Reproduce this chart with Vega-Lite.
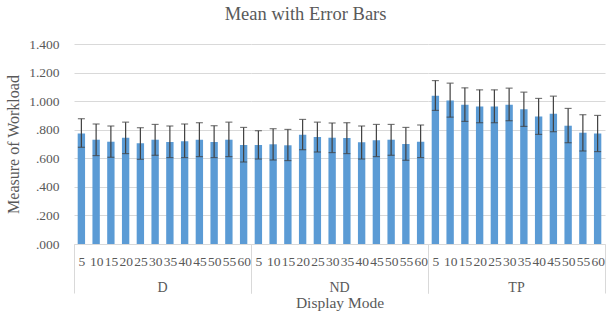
{
  "$schema": "https://vega.github.io/schema/vega-lite/v6.json",
  "padding": {"top": 4, "left": 5, "right": 0, "bottom": 0},
  "title": {
    "text": "Mean with Error Bars",
    "font": "Liberation Serif",
    "fontSize": 18.5,
    "fontWeight": "normal",
    "color": "#595959",
    "anchor": "middle",
    "frame": "bounds",
    "offset": 14
  },
  "data": {
    "values": [
      {"mode": "D", "interval": "5", "mean": 0.774, "lo": 0.677, "hi": 0.877},
      {"mode": "D", "interval": "10", "mean": 0.730, "lo": 0.619, "hi": 0.840},
      {"mode": "D", "interval": "15", "mean": 0.716, "lo": 0.607, "hi": 0.826},
      {"mode": "D", "interval": "20", "mean": 0.744, "lo": 0.633, "hi": 0.853},
      {"mode": "D", "interval": "25", "mean": 0.705, "lo": 0.593, "hi": 0.814},
      {"mode": "D", "interval": "30", "mean": 0.730, "lo": 0.621, "hi": 0.837},
      {"mode": "D", "interval": "35", "mean": 0.714, "lo": 0.605, "hi": 0.826},
      {"mode": "D", "interval": "40", "mean": 0.719, "lo": 0.605, "hi": 0.840},
      {"mode": "D", "interval": "45", "mean": 0.730, "lo": 0.612, "hi": 0.849},
      {"mode": "D", "interval": "50", "mean": 0.714, "lo": 0.605, "hi": 0.828},
      {"mode": "D", "interval": "55", "mean": 0.730, "lo": 0.612, "hi": 0.853},
      {"mode": "D", "interval": "60", "mean": 0.693, "lo": 0.574, "hi": 0.816},
      {"mode": "ND", "interval": "5", "mean": 0.693, "lo": 0.595, "hi": 0.793},
      {"mode": "ND", "interval": "10", "mean": 0.698, "lo": 0.588, "hi": 0.807},
      {"mode": "ND", "interval": "15", "mean": 0.691, "lo": 0.584, "hi": 0.802},
      {"mode": "ND", "interval": "20", "mean": 0.765, "lo": 0.660, "hi": 0.872},
      {"mode": "ND", "interval": "25", "mean": 0.749, "lo": 0.644, "hi": 0.853},
      {"mode": "ND", "interval": "30", "mean": 0.744, "lo": 0.640, "hi": 0.847},
      {"mode": "ND", "interval": "35", "mean": 0.742, "lo": 0.633, "hi": 0.849},
      {"mode": "ND", "interval": "40", "mean": 0.712, "lo": 0.595, "hi": 0.826},
      {"mode": "ND", "interval": "45", "mean": 0.726, "lo": 0.612, "hi": 0.837},
      {"mode": "ND", "interval": "50", "mean": 0.730, "lo": 0.621, "hi": 0.837},
      {"mode": "ND", "interval": "55", "mean": 0.700, "lo": 0.586, "hi": 0.816},
      {"mode": "ND", "interval": "60", "mean": 0.716, "lo": 0.605, "hi": 0.833},
      {"mode": "TP", "interval": "5", "mean": 1.037, "lo": 0.935, "hi": 1.144},
      {"mode": "TP", "interval": "10", "mean": 1.005, "lo": 0.888, "hi": 1.126},
      {"mode": "TP", "interval": "15", "mean": 0.974, "lo": 0.858, "hi": 1.093},
      {"mode": "TP", "interval": "20", "mean": 0.963, "lo": 0.849, "hi": 1.079},
      {"mode": "TP", "interval": "25", "mean": 0.963, "lo": 0.849, "hi": 1.079},
      {"mode": "TP", "interval": "30", "mean": 0.974, "lo": 0.863, "hi": 1.091},
      {"mode": "TP", "interval": "35", "mean": 0.944, "lo": 0.823, "hi": 1.063},
      {"mode": "TP", "interval": "40", "mean": 0.893, "lo": 0.767, "hi": 1.019},
      {"mode": "TP", "interval": "45", "mean": 0.912, "lo": 0.786, "hi": 1.035},
      {"mode": "TP", "interval": "50", "mean": 0.828, "lo": 0.709, "hi": 0.949},
      {"mode": "TP", "interval": "55", "mean": 0.779, "lo": 0.651, "hi": 0.905},
      {"mode": "TP", "interval": "60", "mean": 0.774, "lo": 0.647, "hi": 0.900}
    ]
  },
  "facet": {
    "column": {
      "field": "mode",
      "type": "nominal",
      "title": "Display Mode",
      "header": {
        "labelOrient": "bottom",
        "titleOrient": "bottom",
        "labelFont": "Liberation Serif",
        "labelFontSize": 14,
        "labelColor": "#595959",
        "labelPadding": -13,
        "titleFont": "Liberation Serif",
        "titleFontSize": 15.5,
        "titleFontWeight": "normal",
        "titleColor": "#595959",
        "titlePadding": -9
      }
    }
  },
  "spacing": 0,
  "spec": {
    "width": 177,
    "height": 200,
    "encoding": {
      "x": {
        "field": "interval",
        "type": "ordinal",
        "sort": ["5", "10", "15", "20", "25", "30", "35", "40", "45", "50", "55", "60"],
        "scale": {"paddingInner": 0, "paddingOuter": 0},
        "axis": {
          "title": null,
          "labelAngle": 0,
          "labelOverlap": false,
          "labelFont": "Liberation Serif",
          "labelFontSize": 13.5,
          "labelColor": "#595959",
          "labelPadding": -39,
          "tickBand": "extent",
          "tickSize": 49,
          "tickColor": "#d9d9d9",
          "tickOpacity": {"condition": {"test": "datum.value === '60' || datum.extra", "value": 1}, "value": 0},
          "domainColor": "#d9d9d9"
        }
      }
    },
    "layer": [
      {
        "mark": {"type": "bar", "color": "#5b9bd5", "width": {"band": 0.5}},
        "encoding": {
          "y": {
            "field": "mean",
            "type": "quantitative",
            "scale": {"domain": [0, 1.4]},
            "axis": {
              "title": "Measure of Workload",
              "titleFont": "Liberation Serif",
              "titleFontSize": 16,
              "titleFontWeight": "normal",
              "titleColor": "#595959",
              "titlePadding": 7,
              "values": [0, 0.2, 0.4, 0.6, 0.8, 1.0, 1.2, 1.4],
              "tickCount": 8,
              "labelOverlap": false,
              "labelExpr": "datum.value < 1 ? substring(format(datum.value, '.3f'), 1) : format(datum.value, '.3f')",
              "labelFont": "Liberation Serif",
              "labelFontSize": 13.5,
              "labelColor": "#595959",
              "labelPadding": 15,
              "ticks": false,
              "domain": false,
              "gridColor": "#d9d9d9"
            }
          }
        }
      },
      {
        "mark": {"type": "rule", "color": "#404040", "strokeWidth": 1.2},
        "encoding": {
          "y": {"field": "lo", "type": "quantitative"},
          "y2": {"field": "hi"}
        }
      },
      {
        "mark": {"type": "tick", "color": "#404040", "size": 7, "thickness": 1.2},
        "encoding": {"y": {"field": "hi", "type": "quantitative"}}
      },
      {
        "mark": {"type": "tick", "color": "#404040", "size": 7, "thickness": 1.2},
        "encoding": {"y": {"field": "lo", "type": "quantitative"}}
      }
    ]
  },
  "config": {
    "view": {"stroke": null},
    "background": "white"
  }
}
